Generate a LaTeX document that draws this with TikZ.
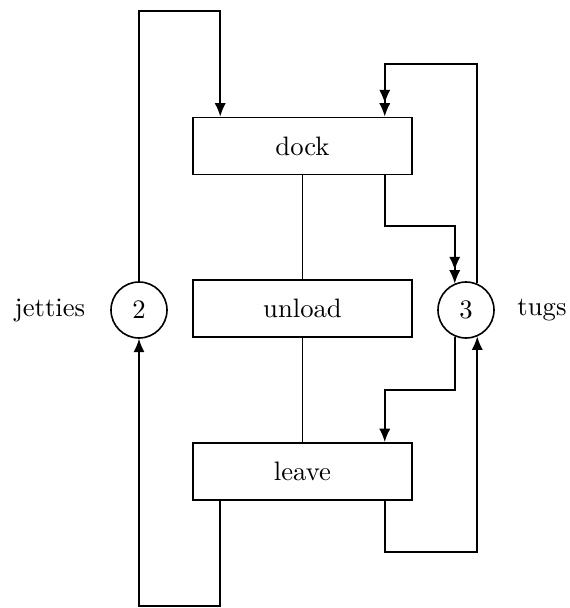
\documentclass[tikz,border=0pt]{standalone}
\usetikzlibrary{arrows.meta,calc}
\begin{document}
\begin{tikzpicture}[x=0.375pt,y=-0.375pt,
  line width=0.6pt,
  stage/.style={draw,rectangle,minimum width=82.1pt,minimum height=21.5pt,inner sep=0pt},
  pool/.style={draw,circle,minimum size=21pt,inner sep=0pt},
  single/.style={-{Latex[length=5pt,width=4.2pt]}},
  double/.style={-{Latex[length=5pt,width=4.2pt]Latex[length=5pt,width=4.2pt]}}]
\useasboundingbox (0,0) rectangle (569,608);

% process stages
\node[stage] (dock)   at (302.5,146) {dock};
\node[stage] (unload) at (302.5,308.5) {unload};
\node[stage] (leave)  at (302.5,471.5) {leave};

% resource pools
\node[pool] (c2) at (139,310) {2};
\node[pool] (c3) at (466,310) {3};
\node (jetties) at (50,310) {jetties};
\node (tugs)    at (542,310) {tugs};

% stage sequence
\draw (dock.south) -- (unload.north);
\draw (unload.south) -- (leave.north);

% helper points on the stages
\coordinate (dockL)   at ($(dock.north west)+(28,0)$);
\coordinate (dockR)   at ($(dock.north east)+(-28,0)$);
\coordinate (dockRs)  at ($(dock.south east)+(-28,0)$);
\coordinate (leaveL)  at ($(leave.south west)+(28,0)$);
\coordinate (leaveR)  at ($(leave.north east)+(-28,0)$);
\coordinate (leaveRs) at ($(leave.south east)+(-28,0)$);

% levels of the horizontal runs
\coordinate (yJtop) at (0,11);
\coordinate (yJbot) at (0,606);
\coordinate (yTtop) at (0,64);
\coordinate (yTa)   at (0,226);
\coordinate (yTb)   at (0,390);
\coordinate (yTbot) at (0,552);

% jetties loop
\draw[single] (c2.north) -- (c2.north |- yJtop) -| (dockL);
\draw[single] (leaveL) -- (leaveL |- yJbot) -| (c2.south);

% tugs loops
\draw[double] (c3.67) -- (c3.67 |- yTtop) -| (dockR);
\draw[double] (dockRs) -- (dockRs |- yTa) -| (c3.113);
\draw[single] (c3.-113) -- (c3.-113 |- yTb) -| (leaveR);
\draw[single] (leaveRs) -- (leaveRs |- yTbot) -| (c3.-67);
\end{tikzpicture}
\end{document}
